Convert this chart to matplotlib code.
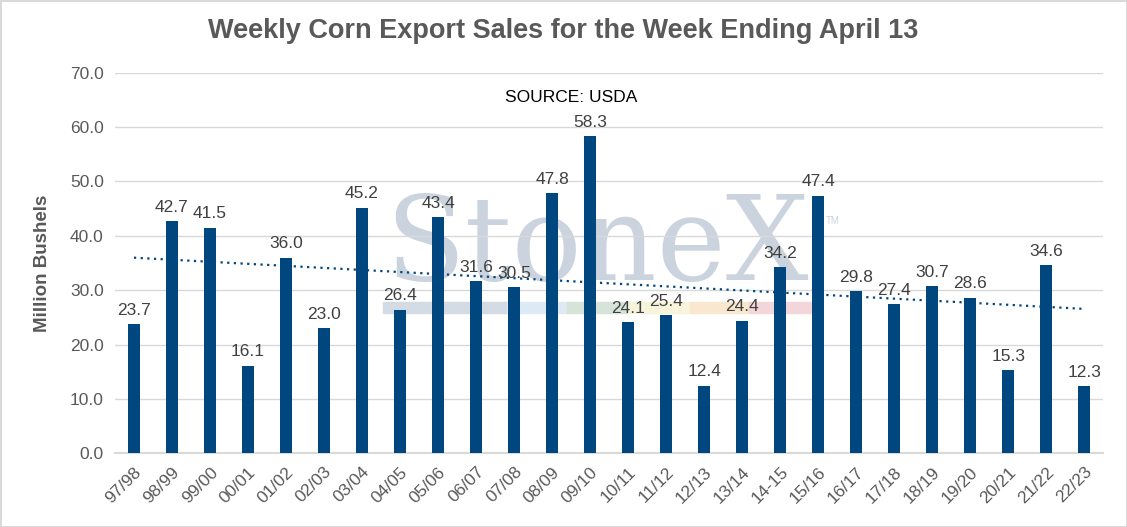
import numpy as np
import matplotlib.pyplot as plt
from matplotlib.patches import Rectangle

# data
seasons = ["97/98", "98/99", "99/00", "00/01", "01/02", "02/03", "03/04", "04/05",
           "05/06", "06/07", "07/08", "08/09", "09/10", "10/11", "11/12", "12/13",
           "13/14", "14-15", "15/16", "16/17", "17/18", "18/19", "19/20", "20/21",
           "21/22", "22/23"]
sales = [23.7, 42.7, 41.5, 16.1, 36.0, 23.0, 45.2, 26.4, 43.4, 31.6, 30.5, 47.8,
         58.3, 24.1, 25.4, 12.4, 24.4, 34.2, 47.4, 29.8, 27.4, 30.7, 28.6, 15.3,
         34.6, 12.3]

plt.rcParams["font.family"] = ["Liberation Sans", "DejaVu Sans"]

bar_col = "#00467f"
txt_col = "#595959"

fig = plt.figure(figsize=(11.27, 5.27), dpi=100)
fig.patch.set_edgecolor("#d9d9d9")
fig.patch.set_linewidth(2)
ax = fig.add_axes([0.102, 0.14, 0.877, 0.722])

x = np.arange(len(seasons))

# watermark (behind the bars)
ax.text(0.53, 0.468, "StoneX", fontsize=84, family="DejaVu Serif",
        color="#cbd4de", ha="center", va="baseline", transform=fig.transFigure, zorder=1)
ax.text(0.733, 0.575, "TM", fontsize=7, color="#cbd4de", transform=fig.transFigure, zorder=1)
edges = [0.340, 0.450, 0.503, 0.557, 0.612, 0.665, 0.7205]
stripe = ["#d3dbe5", "#dde9f4", "#d5e3d8", "#f7f4dc", "#f9e7d0", "#f3d6d9"]
for i, c in enumerate(stripe):
    ax.add_patch(Rectangle((edges[i], 0.406), edges[i + 1] - edges[i], 0.021,
                           transform=fig.transFigure, color=c, zorder=1, clip_on=False))

ax.bar(x, sales, width=0.32, color=bar_col, zorder=3)
for xi, v in zip(x, sales):
    ax.text(xi, v + 1.2, f"{v:.1f}", ha="center", va="bottom", fontsize=12.5,
            color="#404040", zorder=4)

# linear trend
k, b = np.polyfit(x, sales, 1)
ax.plot(x, k * x + b, linestyle=(0, (1, 2)), color=bar_col, linewidth=1.6, zorder=2)

ax.set_xlim(-0.5, len(seasons) - 0.5)
ax.set_ylim(0, 70)
ax.set_yticks(np.arange(0, 71, 10))
ax.set_yticklabels([f"{t:.1f}" for t in np.arange(0, 71, 10)])
ax.set_xticks(x)
ax.set_xticklabels(seasons, rotation=45, ha="right", rotation_mode="anchor")
ax.tick_params(axis="both", length=0, labelsize=12.5, colors=txt_col, pad=8)
ax.grid(axis="y", color="#d9d9d9", linewidth=1, zorder=0)
for s in ["top", "right", "left"]:
    ax.spines[s].set_visible(False)
ax.spines["bottom"].set_color("#d9d9d9")
ax.spines["bottom"].set_linewidth(1.5)

ax.set_ylabel("Million Bushels", fontsize=13.5, fontweight="bold", color=txt_col, labelpad=14)
ax.text(11.5, 65.5, "SOURCE: USDA", ha="center", va="center", fontsize=12.5, color="black")

fig.suptitle("Weekly Corn Export Sales for the Week Ending April 13", fontsize=19.5,
             fontweight="bold", color=txt_col, y=0.965)

fig.savefig("out.png", dpi=100, edgecolor=fig.get_edgecolor())
